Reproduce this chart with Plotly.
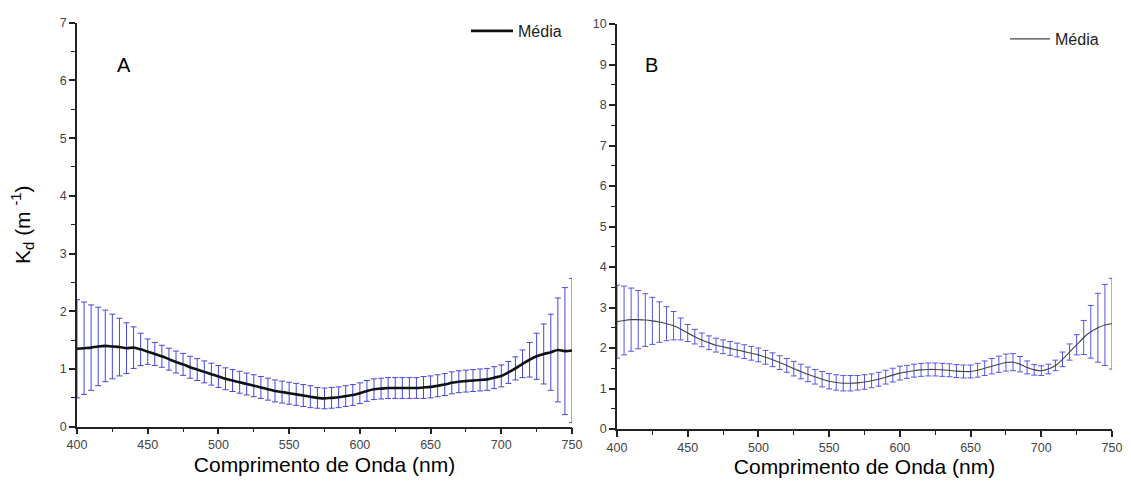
import plotly.graph_objects as go

wavelength = list(range(400, 755, 5))

mean_a = [1.35, 1.36, 1.37, 1.39, 1.40, 1.39, 1.38, 1.36, 1.37, 1.34,
          1.30, 1.26, 1.22, 1.17, 1.12, 1.08, 1.03, 0.99, 0.95, 0.91,
          0.87, 0.83, 0.80, 0.77, 0.74, 0.71, 0.68, 0.65, 0.62, 0.60,
          0.58, 0.56, 0.54, 0.52, 0.50, 0.49, 0.50, 0.51, 0.53, 0.55,
          0.58, 0.62, 0.65, 0.66, 0.67, 0.67, 0.67, 0.67, 0.67, 0.68,
          0.69, 0.71, 0.73, 0.76, 0.78, 0.79, 0.80, 0.81, 0.82, 0.85,
          0.88, 0.94, 1.01, 1.09, 1.16, 1.22, 1.26, 1.29, 1.33, 1.31,
          1.32]
sd_a = [0.85, 0.80, 0.74, 0.68, 0.62, 0.56, 0.50, 0.44, 0.36, 0.28,
        0.22, 0.20, 0.19, 0.19, 0.19, 0.19, 0.19, 0.19, 0.19, 0.19,
        0.19, 0.19, 0.19, 0.19, 0.19, 0.19, 0.19, 0.19, 0.19, 0.19,
        0.19, 0.19, 0.19, 0.19, 0.18, 0.18, 0.18, 0.18, 0.18, 0.18,
        0.18, 0.18, 0.18, 0.18, 0.18, 0.18, 0.18, 0.18, 0.18, 0.19,
        0.19, 0.19, 0.19, 0.19, 0.19, 0.19, 0.19, 0.19, 0.19, 0.19,
        0.19, 0.19, 0.20, 0.24, 0.30, 0.40, 0.52, 0.66, 0.90, 1.10,
        1.25]

mean_b = [2.65, 2.68, 2.70, 2.70, 2.69, 2.67, 2.64, 2.60, 2.55, 2.47,
          2.37, 2.28, 2.20, 2.13, 2.07, 2.03, 1.99, 1.95, 1.91, 1.87,
          1.83, 1.77, 1.71, 1.64, 1.57, 1.49, 1.42, 1.35, 1.29, 1.23,
          1.18, 1.15, 1.13, 1.13, 1.14, 1.16, 1.19, 1.23, 1.28, 1.33,
          1.38, 1.41, 1.44, 1.46, 1.47, 1.47, 1.46, 1.45, 1.43, 1.42,
          1.42, 1.45, 1.50, 1.55, 1.60, 1.64, 1.65, 1.60, 1.52, 1.46,
          1.44, 1.48, 1.57, 1.72, 1.90, 2.08, 2.26, 2.40, 2.50, 2.57,
          2.60]
sd_b = [0.90, 0.85, 0.78, 0.72, 0.65, 0.58, 0.50, 0.42, 0.35, 0.27,
        0.21, 0.18, 0.17, 0.17, 0.17, 0.17, 0.17, 0.17, 0.17, 0.17,
        0.17, 0.17, 0.17, 0.17, 0.17, 0.18, 0.18, 0.18, 0.18, 0.19,
        0.19, 0.19, 0.19, 0.19, 0.18, 0.18, 0.17, 0.17, 0.17, 0.17,
        0.17, 0.16, 0.16, 0.16, 0.16, 0.16, 0.16, 0.16, 0.16, 0.16,
        0.16, 0.17, 0.18, 0.19, 0.20, 0.21, 0.21, 0.19, 0.16, 0.13,
        0.12, 0.12, 0.13, 0.18, 0.20, 0.25, 0.42, 0.65, 0.85, 1.00,
        1.12]

x_ticks = [400, 450, 500, 550, 600, 650, 700, 750]
legend_label = "Média"
x_title = "Comprimento de Onda (nm)"
y_title = "K<sub>d</sub> (m <sup>-1</sup>)"

fig = go.Figure()

err_color_a = "rgb(70,70,225)"
err_color_b = "rgb(85,85,240)"

fig.add_trace(go.Scatter(
    x=wavelength, y=mean_a, mode="markers",
    marker=dict(size=1, color="rgba(0,0,0,0)"),
    error_y=dict(type="data", array=sd_a, visible=True, color=err_color_a,
                 thickness=1, width=3),
    showlegend=False, xaxis="x", yaxis="y", hoverinfo="skip"))
fig.add_trace(go.Scatter(
    x=wavelength, y=mean_a, mode="lines", name=legend_label,
    line=dict(color="#111111", width=2.6, shape="spline"),
    xaxis="x", yaxis="y", legend="legend"))

fig.add_trace(go.Scatter(
    x=wavelength, y=mean_b, mode="markers",
    marker=dict(size=1, color="rgba(0,0,0,0)"),
    error_y=dict(type="data", array=sd_b, visible=True, color=err_color_b,
                 thickness=1, width=3),
    showlegend=False, xaxis="x2", yaxis="y2", hoverinfo="skip"))
fig.add_trace(go.Scatter(
    x=wavelength, y=mean_b, mode="lines", name=legend_label,
    line=dict(color="#444444", width=1.1, shape="spline"),
    xaxis="x2", yaxis="y2", legend="legend2"))

# page body has an 8px margin; figure is sized/positioned to compensate
OFF = 8
W, H = 1131 - OFF, 490 - OFF

def xd(px):
    return (px - OFF) / W

def yd(py):
    return 1 - (py - OFF) / H

tickfont = dict(family="Liberation Sans, Arial", size=12.5, color="#444444")
titlefont = dict(family="Liberation Sans, Arial", size=21, color="#000000")
legendfont = dict(family="Liberation Sans, Arial", size=16, color="#222")

common_x = dict(
    range=[400, 750], tickvals=x_ticks, ticks="outside", ticklen=6,
    tickwidth=1.5, tickcolor="#222", showline=True, linecolor="#222",
    linewidth=1.5, showgrid=False, zeroline=False, tickfont=tickfont,
    automargin=False, ticklabeloverflow="allow",
    minor=dict(ticks="outside", ticklen=4, tickwidth=1.2, tickcolor="#222",
               dtick=25, tick0=400, showgrid=False),
    title=dict(text=x_title, font=titlefont, standoff=6),
)
common_y = dict(
    ticks="outside", ticklen=6, tickwidth=1.5, tickcolor="#222",
    showline=True, linecolor="#222", linewidth=1.5, showgrid=False,
    zeroline=False, tickfont=tickfont, dtick=1, automargin=False,
    ticklabeloverflow="allow",
    minor=dict(ticks="outside", ticklen=4, tickwidth=1.2, tickcolor="#222",
               dtick=0.5, showgrid=False),
)

fig.update_layout(
    width=W, height=H,
    margin=dict(l=0, r=0, t=0, b=0),
    paper_bgcolor="white", plot_bgcolor="white",
    xaxis=dict(domain=[xd(77), xd(572)], anchor="y", **common_x),
    yaxis=dict(domain=[yd(426.7), yd(22.7)], range=[0, 7], anchor="x",
               title=dict(text=y_title, font=titlefont, standoff=30),
               **common_y),
    xaxis2=dict(domain=[xd(617), xd(1112)], anchor="y2", **common_x),
    yaxis2=dict(domain=[yd(429), yd(24)], range=[0, 10], anchor="x2",
                **common_y),
    legend=dict(x=xd(466), y=yd(31), xanchor="left", yanchor="middle",
                bgcolor="rgba(0,0,0,0)", itemwidth=42, font=legendfont),
    legend2=dict(x=xd(1005), y=yd(39), xanchor="left", yanchor="middle",
                 bgcolor="rgba(0,0,0,0)", itemwidth=40, font=legendfont),
    annotations=[
        dict(text="A", x=xd(115), y=yd(52), xref="paper", yref="paper",
             showarrow=False, font=dict(family="Liberation Sans, Arial",
                                        size=20, color="#000")),
        dict(text="B", x=xd(651), y=yd(52), xref="paper", yref="paper",
             showarrow=False, font=dict(family="Liberation Sans, Arial",
                                        size=20, color="#000")),
    ],
)

fig.write_html("out.html")
